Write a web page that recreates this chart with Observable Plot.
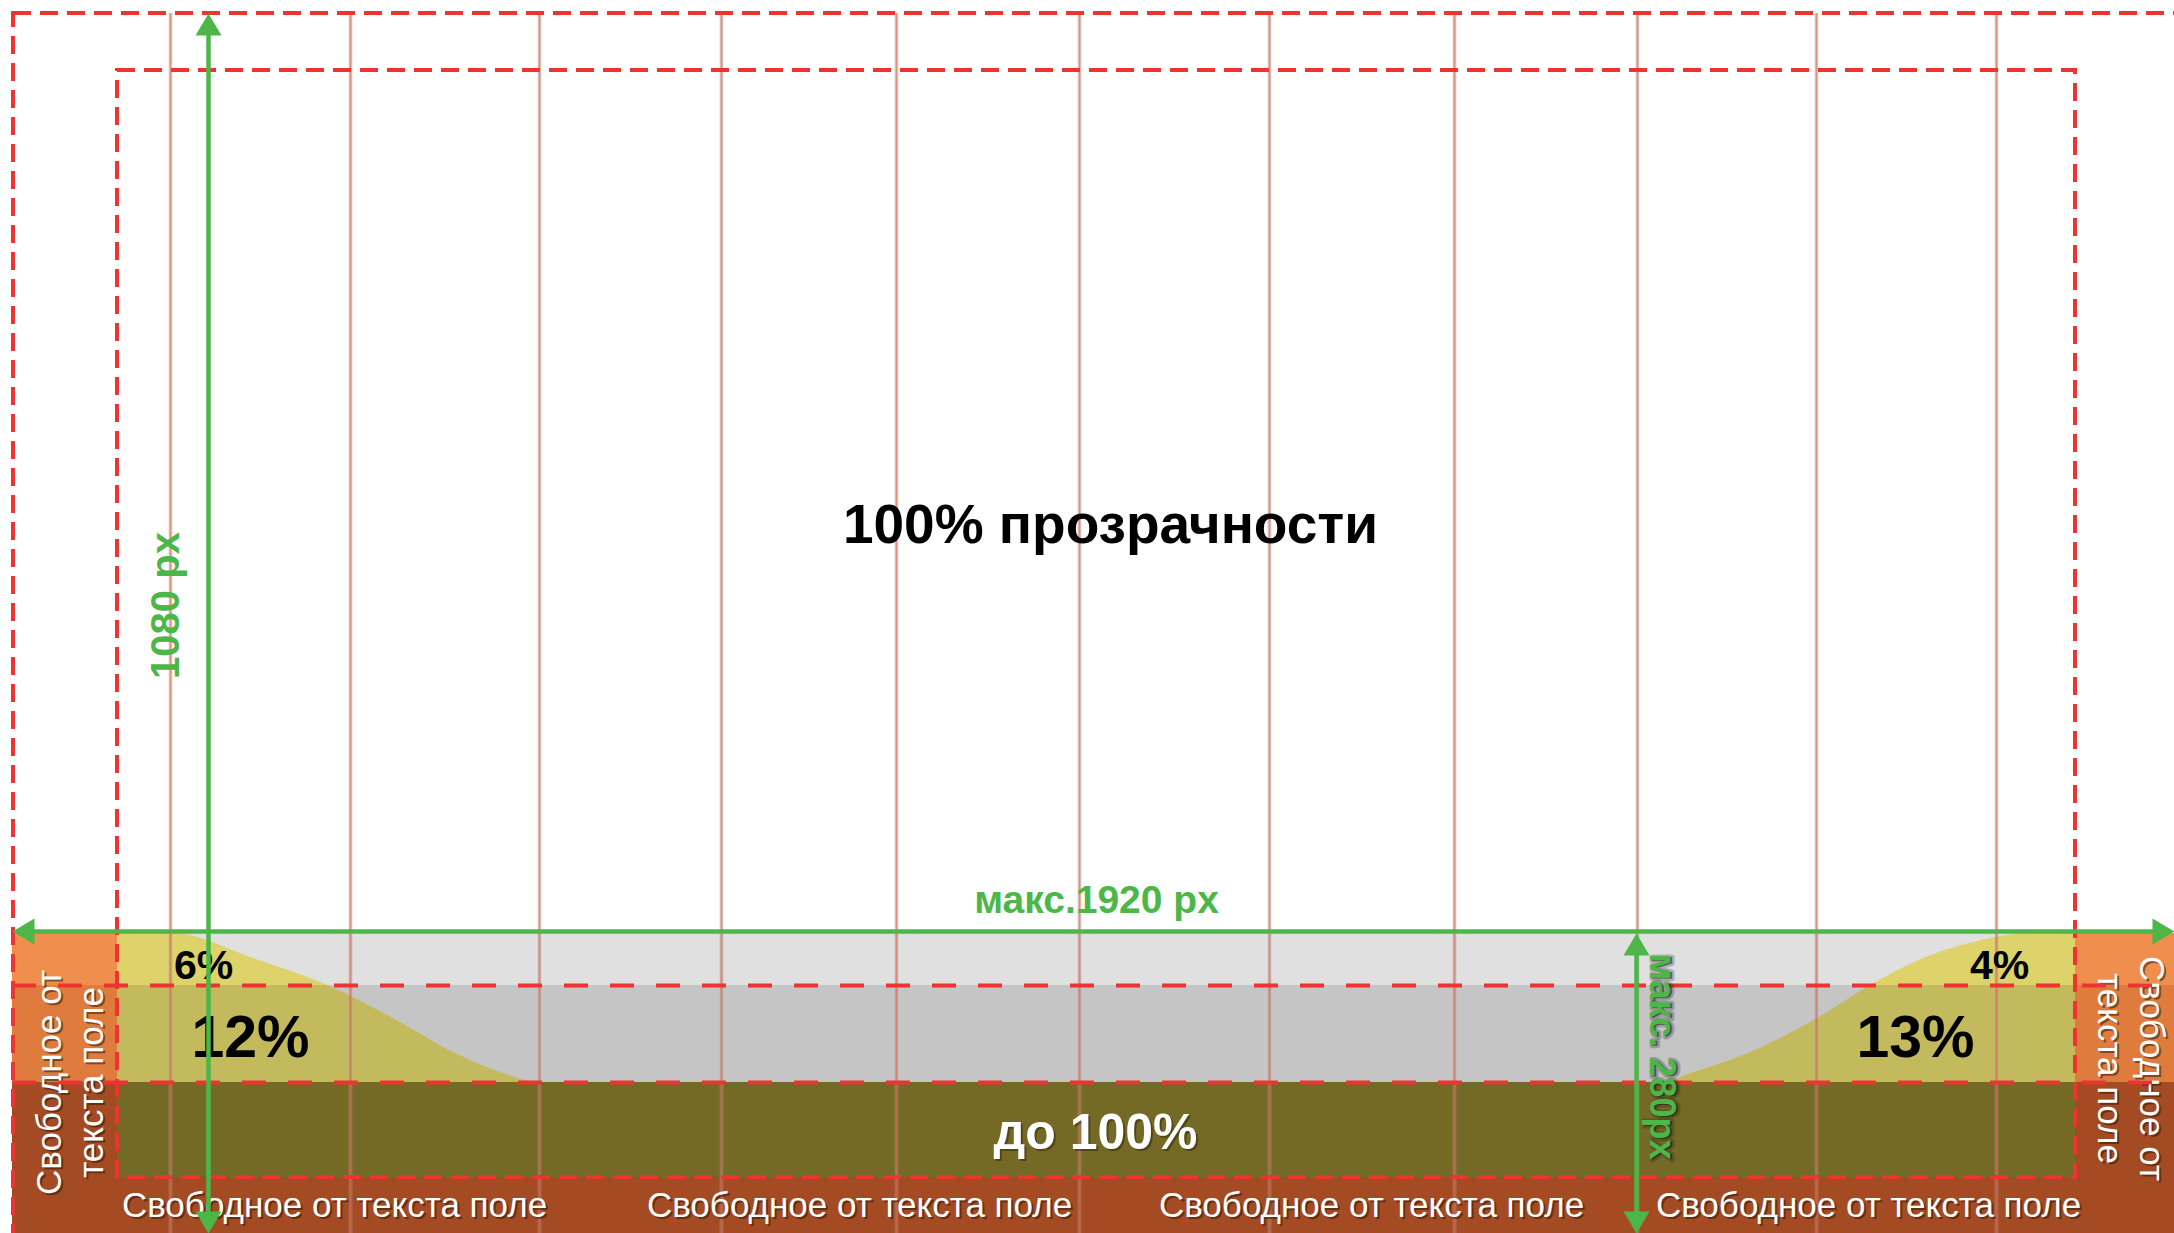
<!DOCTYPE html>
<html>
<head>
<meta charset="utf-8">
<script src="https://cdn.jsdelivr.net/npm/d3@7"></script>
<script src="https://cdn.jsdelivr.net/npm/@observablehq/plot@0.6"></script>
<style>
  html, body { margin: 0; padding: 0; overflow: hidden; background: #fff; }
</style>
</head>
<body>
<div id="chart"></div>
<script>
// ---- Diagram values (in diagram units, 2174 x 1233 canvas) ----
const canvas = [2174, 1233];
const gridLines = [170, 350, 539, 721, 896, 1079, 1269, 1454, 1637, 1816, 1996];
const outerFrame = [13, 13, 2200, 1262];          // x1, y1, x2, y2
const safeFrame = [117, 70, 2075, 1177];          // x1, y1, x2, y2
const bandEdges = [933, 985, 1082, 1177, 1233];   // horizontal zone boundaries
const panelEdges = [12, 117, 2075, 2174];         // left panel, inner, right panel
const leftCurveX = [117, 172, 253, 327, 393, 453, 500, 540, 570];
const leftCurveY = [933, 933, 958, 985, 1018, 1052, 1072, 1082, 1082];
const rightCurveX = [1630, 1660, 1693, 1750, 1817, 1870, 1923, 1973, 2028, 2075];
const rightCurveY = [1082, 1082, 1072, 1052, 1018, 985, 958, 942, 933, 933];
const arrowX1 = [12, 208, 1636];
const arrowY1 = [931, 13, 933];
const arrowX2 = [2174, 208, 1636];
const arrowY2 = [931, 1233, 1233];

// ---- Texts ----
const titleText = ["100% прозрачности"];
const titleAt = [1110, 525];
const widthText = ["макс.1920 px"];
const widthAt = [1096, 900];
const heightText = ["1080 px"];
const heightAt = [166, 605];
const stripText = ["макс. 280px"];
const stripAt = [1661, 1056];
const smallPct = ["6%", "4%"];
const smallPctX = [203, 1999];
const smallPctY = [965, 965];
const bigPct = ["12%", "13%"];
const bigPctX = [250, 1915];
const bigPctY = [1038, 1038];
const opaqueText = ["до 100%"];
const opaqueAt = [1095, 1132];
const freeText = "Свободное от текста поле";
const freeX = [334, 859, 1371, 1868];
const freeY = 1205;
const sideText = "Свободное от\nтекста поле";
const sideX = [68, 2132];
const sideY = [1082, 1068];
const sideRotate = [-90, 90];

// ---- Styles ----
const font = "'Liberation Sans', Arial, Helvetica, sans-serif";
const green = "#4CB748";
const red = "#EE3333";

// ---- Build tables ----
const [W, H] = canvas;
const [pL, pIn, pOut, pR] = panelEdges;
const [b0, b1, b2, b3, b4] = bandEdges;

const lightBand = [{x1: pIn, x2: pOut, y1: b0, y2: b2}];
const midOverlay = [{x1: pIn, x2: pOut, y1: b1, y2: b2}];
const solidRects = [
  {x1: pIn, x2: pOut, y1: b2, y2: b3, c: "#746A25"},
  {x1: pL, x2: pIn, y1: b0, y2: b1, c: "#F08E4E"},
  {x1: pOut, x2: pR, y1: b0, y2: b1, c: "#F08E4E"},
  {x1: pL, x2: pIn, y1: b1, y2: b2, c: "#DE7B3D"},
  {x1: pOut, x2: pR, y1: b1, y2: b2, c: "#DE7B3D"},
  {x1: pL, x2: pIn, y1: b2, y2: b4, c: "#A44B23"},
  {x1: pOut, x2: pR, y1: b2, y2: b4, c: "#A44B23"},
  {x1: pL, x2: pR, y1: b3, y2: b4, c: "#A44B23"}
];
const leftCurve = leftCurveX.map((x, i) => ({x, y: leftCurveY[i]}));
const rightCurve = rightCurveX.map((x, i) => ({x, y: rightCurveY[i]}));

const frames = [
  {x1: outerFrame[0], y1: outerFrame[1], x2: outerFrame[2], y2: outerFrame[3]},
  {x1: safeFrame[0], y1: safeFrame[1], x2: safeFrame[2], y2: safeFrame[3]}
];

const headLen = 22, headHalf = 13;
const arrows = arrowX1.map((x1, i) => ({x1, y1: arrowY1[i], x2: arrowX2[i], y2: arrowY2[i]}));
function head(id, tx, ty, fx, fy) {
  const L = Math.hypot(tx - fx, ty - fy);
  const ux = (tx - fx) / L, uy = (ty - fy) / L;
  const bx = tx - ux * headLen, by = ty - uy * headLen;
  return [
    {id, x: tx, y: ty},
    {id, x: bx - uy * headHalf, y: by + ux * headHalf},
    {id, x: bx + uy * headHalf, y: by - ux * headHalf}
  ];
}
const heads = arrows.flatMap((a, i) => [
  ...head(i * 2, a.x1, a.y1, a.x2, a.y2),
  ...head(i * 2 + 1, a.x2, a.y2, a.x1, a.y1)
]);
const shafts = arrows.map(a => {
  const L = Math.hypot(a.x2 - a.x1, a.y2 - a.y1);
  const ux = (a.x2 - a.x1) / L, uy = (a.y2 - a.y1) / L;
  const s = headLen * 0.6;
  return {x1: a.x1 + ux * s, y1: a.y1 + uy * s, x2: a.x2 - ux * s, y2: a.y2 - uy * s};
});

const freeRows = freeX.map(x => ({x, y: freeY, t: freeText}));
const sideRows = sideX.map((x, i) => ({x, y: sideY[i], r: sideRotate[i], t: sideText}));

const txt = (data, o) => Plot.text(data, {fontFamily: font, textAnchor: "middle", lineAnchor: "middle", ...o});

const chart = Plot.plot({
  width: W,
  height: H,
  margin: 0,
  marginTop: 0, marginRight: 0, marginBottom: 0, marginLeft: 0,
  x: {domain: [0, W], range: [0, W], axis: null},
  y: {domain: [0, H], range: [0, H], axis: null},
  color: {type: "identity"},
  style: {background: "#ffffff", fontFamily: font},
  marks: [
    // bands
    Plot.rect(lightBand, {x1: "x1", x2: "x2", y1: "y1", y2: "y2", fill: "#E0E0E0"}),
    Plot.areaY(leftCurve, {x: "x", y1: b2, y2: "y", fill: "#DDD36A", curve: "monotone-x"}),
    Plot.areaY(rightCurve, {x: "x", y1: b2, y2: "y", fill: "#DDD36A", curve: "monotone-x"}),
    Plot.rect(midOverlay, {x1: "x1", x2: "x2", y1: "y1", y2: "y2", fill: "#05060a", fillOpacity: 0.12}),
    Plot.rect(solidRects, {x1: "x1", x2: "x2", y1: "y1", y2: "y2", fill: "c"}),
    // guide lines
    Plot.ruleX(gridLines, {x: d => d, y1: outerFrame[1], y2: b4, stroke: "#9aa0a0", strokeOpacity: 0.35, strokeWidth: 4}),
    Plot.ruleX(gridLines, {x: d => d, y1: outerFrame[1], y2: b4, stroke: "#E4603F", strokeOpacity: 0.6, strokeWidth: 2}),
    // texts (black / white)
    txt(titleText, {x: () => titleAt[0], y: () => titleAt[1], text: d => d, fontSize: 55, fontWeight: "bold", fill: "#000"}),
    txt(smallPct, {x: (d, i) => smallPctX[i], y: (d, i) => smallPctY[i], text: d => d, fontSize: 41, fontWeight: "bold", fill: "#000"}),
    txt(bigPct, {x: (d, i) => bigPctX[i], y: (d, i) => bigPctY[i], text: d => d, fontSize: 59, fontWeight: "bold", fill: "#000"}),
    txt(opaqueText, {x: () => opaqueAt[0], y: () => opaqueAt[1], text: d => d, fontSize: 50, fontWeight: "bold", fill: "#2a1a05", fillOpacity: 0.45, dx: 2, dy: 2}),
    txt(opaqueText, {x: () => opaqueAt[0], y: () => opaqueAt[1], text: d => d, fontSize: 50, fontWeight: "bold", fill: "#fff"}),
    txt(freeRows, {x: "x", y: "y", text: "t", fontSize: 35, fill: "#2a1205", fillOpacity: 0.5, dx: 2, dy: 2}),
    txt(freeRows, {x: "x", y: "y", text: "t", fontSize: 35, fill: "#fff"}),
    txt(sideRows, {x: "x", y: "y", text: "t", rotate: "r", fontSize: 35, lineHeight: 1.2, fill: "#2a1205", fillOpacity: 0.5, dx: 2, dy: 2}),
    txt(sideRows, {x: "x", y: "y", text: "t", rotate: "r", fontSize: 35, lineHeight: 1.2, fill: "#fff"}),
    // dashed frames
    Plot.rect(frames, {x1: "x1", x2: "x2", y1: "y1", y2: "y2", fill: "none", stroke: red, strokeWidth: 4, strokeDasharray: "18,9"}),
    Plot.ruleY([b1, b2], {y: d => d, x1: pL, x2: pR, stroke: red, strokeWidth: 4, strokeDasharray: "24,22"}),
    // green arrows
    Plot.link(shafts, {x1: "x1", y1: "y1", x2: "x2", y2: "y2", stroke: green, strokeWidth: 4.5}),
    Plot.line(heads, {x: "x", y: "y", z: "id", fill: green, stroke: "none"}),
    // green labels
    txt(widthText, {x: () => widthAt[0], y: () => widthAt[1], text: d => d, fontSize: 39, fontWeight: "bold", fill: green}),
    txt(heightText, {x: () => heightAt[0], y: () => heightAt[1], text: d => d, rotate: -90, fontSize: 40, fontWeight: "bold", fill: green}),
    txt(stripText, {x: () => stripAt[0], y: () => stripAt[1], text: d => d, rotate: 90, fontSize: 36, fontWeight: "bold", fill: "#1a1a1a", fillOpacity: 0.55, stroke: "#1a1a1a", strokeOpacity: 0.25, strokeWidth: 5, dx: 2, dy: 1}),
    txt(stripText, {x: () => stripAt[0], y: () => stripAt[1], text: d => d, rotate: 90, fontSize: 36, fontWeight: "bold", fill: green})
  ]
});
document.getElementById("chart").appendChild(chart);
</script>
</body>
</html>
